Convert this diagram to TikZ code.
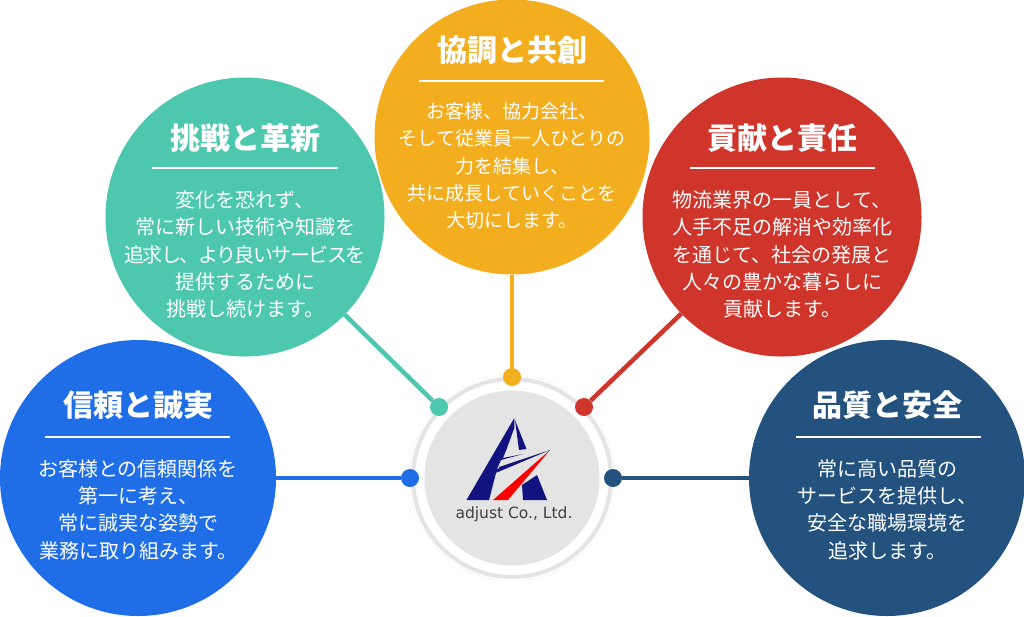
\documentclass[tikz,border=0pt]{standalone}
\usepackage{fontspec}
\setmainfont{Noto Sans CJK JP}
\newfontfamily\logofont{DejaVu Sans}
\definecolor{cTeal}{HTML}{4DC8AE}
\definecolor{cOrange}{HTML}{F3AE1F}
\definecolor{cRed}{HTML}{CF352B}
\definecolor{cBlue}{HTML}{1F6EE8}
\definecolor{cNavy}{HTML}{24527F}
\definecolor{cGrey}{HTML}{E4E4E4}
\definecolor{cLogo}{HTML}{12137F}
\newcommand{\bodysz}{20}
\tikzset{
 x=1pt,y=-1pt,
 bubble/.style={circle,minimum size=#1,inner sep=0pt},
 dot/.style={circle,minimum size=18pt,inner sep=0pt},
 link/.style={line width=4.5pt},
 ttl/.style={text=white,font=\fontsize{30}{30}\selectfont\bfseries,inner sep=0pt},
 bodytxt/.style={text=white,align=center,font=\fontsize{\bodysz}{27.3}\selectfont,inner sep=0pt},
 rule/.style={draw=white,line width=2pt},
}
\newcommand{\bub}[9]{%
 \node[bubble=#5*2pt,fill=#2] (#1) at (#3,#4) {};
 \node[ttl] (#1t) at (#3,#7) {#6};
 \node[bodytxt] (#1b) at (#3,#9) {#8};
}
\begin{document}
\begin{tikzpicture}
\useasboundingbox (0,0) rectangle (1024,616);
\fill[white] (0,0) rectangle (1024,616);
% hub
\node[circle,minimum size=206pt,inner sep=0pt,draw=cGrey,line width=.7pt,dotted] (hubo) at (512,478) {};
\node[circle,minimum size=198pt,inner sep=0pt,draw=cGrey,line width=4pt] (hubr) at (512,478) {};
\node[circle,minimum size=175pt,inner sep=0pt,fill=cGrey] (hub) at (512,478) {};
% dots
\node[dot,fill=cOrange] (dO) at (512,377) {};
\node[dot,fill=cTeal] (dT) at (439,407) {};
\node[dot,fill=cRed] (dR) at (584,407) {};
\node[dot,fill=cBlue] (dB) at (410,478) {};
\node[dot,fill=cNavy] (dN) at (613,478) {};
% bubbles
\bub{T}{cTeal}{245}{217}{139.5}{挑戦と革新}{138}{変化を恐れず、\\常に新しい技術や知識を\\{\addfontfeature{LetterSpace=-7.5}追求し、より良いサービスを}\\提供するために\\挑戦し続けます。}{254.5}
\renewcommand{\bodysz}{19}
\bub{O}{cOrange}{512}{137}{137.5}{協調と共創}{50}{お客様、協力会社、\\そして従業員一人ひとりの\\力を結集し、\\共に成長していくことを\\大切にします。}{166}
\renewcommand{\bodysz}{20}
\bub{R}{cRed}{782}{217}{139.5}{貢献と責任}{138}{物流業界の一員として、\\人手不足の解消や効率化\\を通じて、社会の発展と\\人々の豊かな暮らしに\\貢献します。}{254.5}
\bub{B}{cBlue}{138}{478}{138}{信頼と誠実}{405}{お客様との信頼関係を\\第一に考え、\\常に誠実な姿勢で\\業務に取り組みます。}{509.5}
\bub{N}{cNavy}{887}{478}{138}{品質と安全}{405}{常に高い品質の\\サービスを提供し、\\安全な職場環境を\\追求します。}{509.5}
% links
\draw[link,cOrange] (O) -- (dO);
\draw[link,cTeal] (T) -- (dT);
\draw[link,cRed] (R) -- (dR);
\draw[link,cBlue] (B) -- (dB);
\draw[link,cNavy] (N) -- (dN);
% rules
\draw[rule] (152,168) -- (338,168);
\draw[rule] (419,81) -- (604,81);
\draw[rule] (690,168) -- (875,168);
\draw[rule] (45,437) -- (230,437);
\draw[rule] (796,437) -- (981,437);
% logo
\fill[cLogo] (514.3,418) -- (466.5,500) -- (489,500) -- (496,473) -- (504,467) -- (497,469) -- (501,460) -- (523,454) -- (503,458) -- (507,448) -- (514.3,428) -- cycle;
\fill[cLogo] (515,420) -- (526.5,449) -- (519,450) -- cycle;
\fill[cLogo] (498,472) -- (550,450) -- (499,467) -- cycle;
\fill[cLogo] (537,475) -- (547,500) -- (523,500) -- (522,485) -- cycle;
\fill[red] (550,450) -- (493,500) -- (508,500) -- cycle;
\node[text=black!75,font=\logofont\fontsize{15.5}{15.5}\selectfont,inner sep=0pt] (lg) at (514,514) {adjust Co., Ltd.};
\end{tikzpicture}
\end{document}
